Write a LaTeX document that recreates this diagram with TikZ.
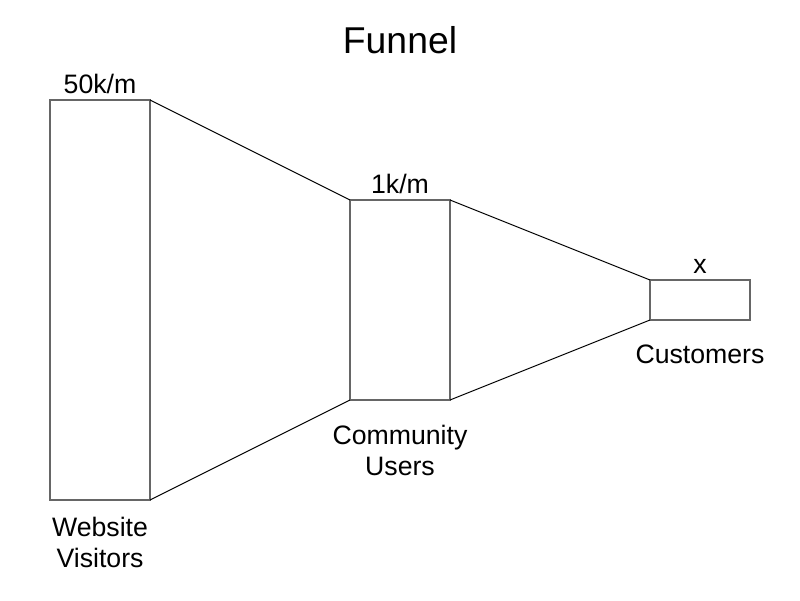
\documentclass[tikz,border=0pt]{standalone}
\usepackage{fontspec}
\setmainfont{Liberation Sans}
\definecolor{boxgray}{HTML}{666666}
\begin{document}
\begin{tikzpicture}[x=1pt,y=-1pt,
  box/.style={draw=boxgray, line width=1.3pt, fill=white, inner sep=0pt, outer sep=0pt},
  link/.style={draw=black, line width=1pt},
  lab/.style={inner sep=0pt, font=\fontsize{26.67pt}{30.5pt}\selectfont, align=center},
  ttl/.style={inner sep=0pt, font=\fontsize{37.33pt}{42pt}\selectfont}]
\useasboundingbox (0,0) rectangle (800,600);
\node[box, minimum width=100pt, minimum height=400pt] (v) at (100,300) {};
\node[box, minimum width=100pt, minimum height=200pt] (c) at (400,300) {};
\node[box, minimum width=100pt, minimum height=40pt] (k) at (700,300) {};
\draw[link] (v.north east) -- (c.north west);
\draw[link] (v.south east) -- (c.south west);
\draw[link] (c.north east) -- (k.north west);
\draw[link] (c.south east) -- (k.south west);
\node[ttl, anchor=base] (title) at (400,53) {Funnel};
\node[lab, anchor=base] (n50) at (100,93) {50k/m};
\node[lab, anchor=base] (n1) at (400,193) {1k/m};
\node[lab, anchor=base] (nx) at (700,273) {x};
\node[lab, anchor=base] (wv) at (100,567) {Website\\Visitors};
\node[lab, anchor=base] (cu) at (400,475) {Community\\Users};
\node[lab, anchor=base] (cs) at (700,363) {Customers};
\end{tikzpicture}
\end{document}
